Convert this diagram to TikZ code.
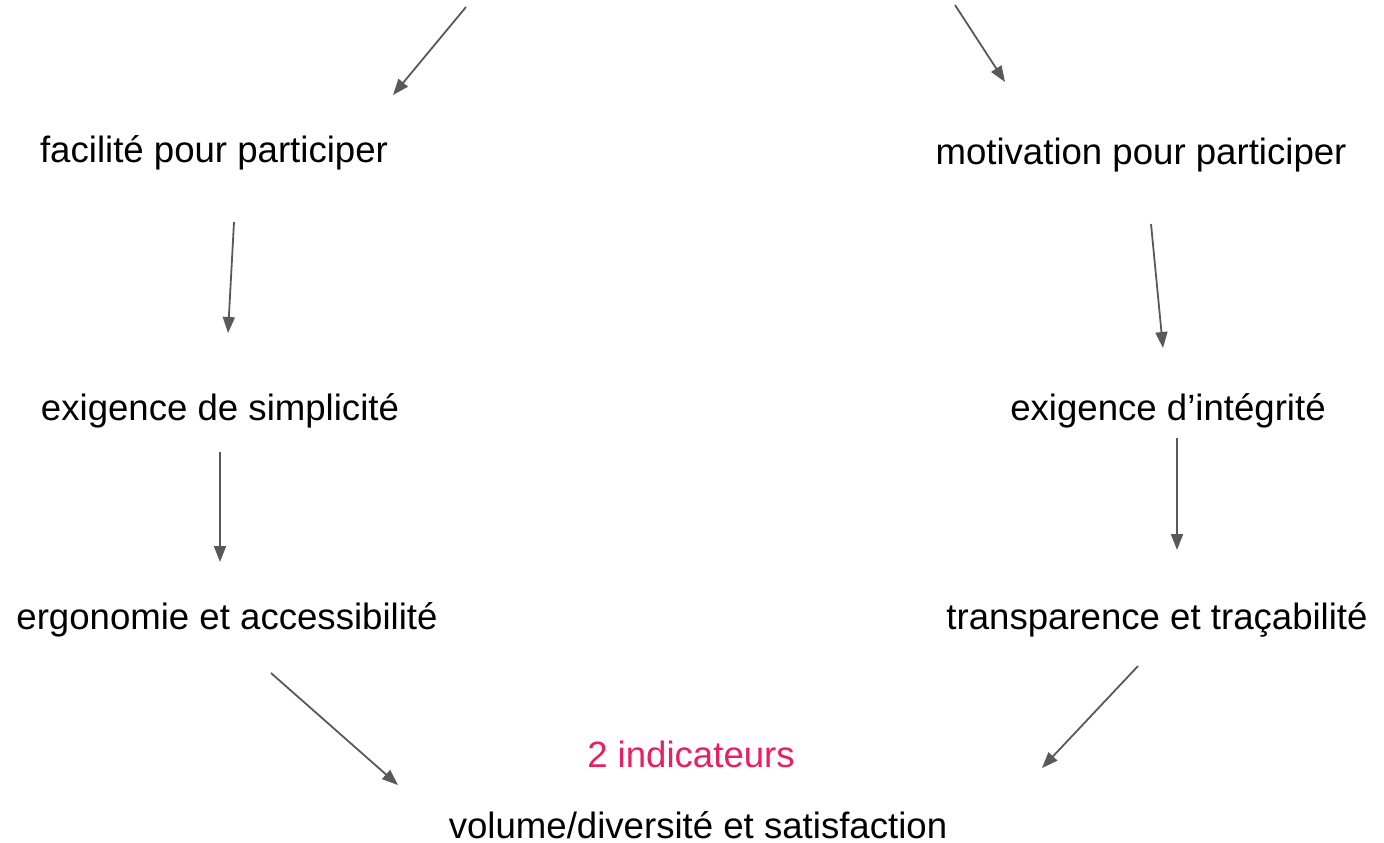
\documentclass[tikz,border=0pt]{standalone}
\usepackage{fontspec}
\setmainfont{Liberation Sans}
\usetikzlibrary{arrows.meta, positioning}
\definecolor{arrgray}{HTML}{595959}
\definecolor{indpink}{HTML}{E91E63}
\tikzset{
  label/.style={
    anchor=base,
    inner sep=0pt,
    font=\fontsize{18.3}{22}\selectfont
  },
  flow/.style={
    draw=arrgray,
    line width=0.9pt,
    -{Triangle[length=8pt, width=6pt]}
  }
}

\begin{document}
\begin{tikzpicture}[x=0.5pt, y=-0.5pt]
  \useasboundingbox (0,0) rectangle (1384,842);
  \coordinate (topL) at (466,7);
  \coordinate (topR) at (955,5);

  \node[label] (fac)   at (214,162) {facilité pour participer};
  \node[label] (mot)   at (1141,164) {motivation pour participer};
  \node[label] (simp)  at (220,420) {exigence de simplicité};
  \node[label] (integ) at (1168,420) {exigence d’intégrité};
  \node[label] (ergo)  at (227,629) {ergonomie et accessibilité};
  \node[label] (trans) at (1157,629) {transparence et traçabilité};
  \node[label, text=indpink] (ind) at (691,767) {2 indicateurs};
  \node[label] (vol)   at (698,838) {volume/diversité et satisfaction};

  % left branch
  \draw[flow] (topL) -- ([shift={(179,-67)}]fac.base);
  \draw[flow] ([shift={(20,60)}]fac.base) -- ([shift={(8,-87)}]simp.base);
  \draw[flow] ([shift={(0,32)}]simp.base) -- ([shift={(-7,-67)}]ergo.base);
  \draw[flow] ([shift={(44,44)}]ergo.base) -- ([shift={(-300,-53)}]vol.base);
  % right branch
  \draw[flow] (topR) -- ([shift={(-136,-82)}]mot.base);
  \draw[flow] ([shift={(10,60)}]mot.base) -- ([shift={(-5,-72)}]integ.base);
  \draw[flow] ([shift={(9,18)}]integ.base) -- ([shift={(20,-79)}]trans.base);
  \draw[flow] ([shift={(-19,37)}]trans.base) -- ([shift={(344,-70)}]vol.base);
\end{tikzpicture}
\end{document}
